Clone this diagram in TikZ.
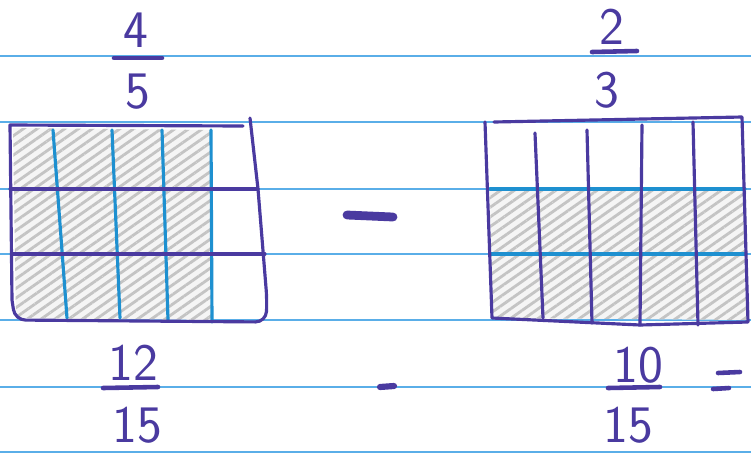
\documentclass[tikz,border=0pt]{standalone}
\usepackage{tikz}
\usetikzlibrary{patterns.meta}
\definecolor{rule}{HTML}{5AAEE8}
\definecolor{ink}{HTML}{4A3AA0}
\definecolor{cyanink}{HTML}{1E90D0}
\definecolor{pencil}{HTML}{C4C4C4}

\begin{document}
\begin{tikzpicture}[
  x=0.02cm,y=-0.02cm,
  every node/.style={font=\sffamily\fontsize{30}{34}\selectfont,text=ink,inner sep=0pt},
  ruled/.style={rule,line width=1.1pt},
  outline/.style={ink,line width=1.8pt,line join=round,line cap=round},
  blueline/.style={cyanink,line width=1.8pt,line cap=round},
  shade/.style={preaction={fill=gray!8},
                pattern={Lines[angle=35,distance=4.5pt,line width=1.6pt]},
                pattern color=pencil},
  bar/.style={ink,line width=2.6pt,line cap=round}
]
\useasboundingbox (0,0) rectangle (751,454);
\fill[white] (0,0) rectangle (751,454);

% lined paper
\foreach \y in {56,122,189,254,320,387,452}
  \draw[ruled] (0,\y) -- (751,\y);

% left grid: 4/5 as 12/15
\path[shade] (13,128) -- (211,130) -- (212,320) -- (16,318) -- cycle;
\draw[blueline] (53,130) -- (67,318);
\draw[blueline] (112,130) -- (120,318);
\draw[blueline] (162,130) -- (168,320);
\draw[blueline] (211,130) -- (212,322);
\draw[outline] (243,126) -- (10,125) -- (12,300)
  [rounded corners=6pt] -- (15,320) -- (266,322) -- (267,300)
  [sharp corners] -- (258,189) -- (250,118);
\draw[outline] (10,189) -- (258,189);
\draw[outline] (12,254) -- (265,254);

% right grid: 2/3 as 10/15
\path[shade] (490,191) -- (746,191) -- (747,320) -- (492,318) -- cycle;
\draw[blueline] (490,189) -- (745,189);
\draw[blueline] (490,254) -- (746,254);
\draw[outline] (494,122) -- (742,117) -- (748,322) -- (640,325) -- (492,318)
  -- (485,122);
\draw[outline] (535,133) -- (543,318);
\draw[outline] (587,130) -- (592,323);
\draw[outline] (642,125) -- (640,325);
\draw[outline] (693,122) -- (698,325);

% fractions on top
\node (numL) at (136,30) {4};
\node (denL) at (138,92) {5};
\draw[bar] (114,58) -- (162,58);
\node (numR) at (612,27) {2};
\node (denR) at (607,90) {3};
\draw[bar] (592,52) -- (637,51);

% signs
\draw[ink,line width=5pt,line cap=round] (347,215) -- (393,217);
\draw[ink,line width=3.5pt,line cap=round] (380,387) -- (394,386);
\draw[ink,line width=2.6pt,line cap=round] (718,373) -- (740,372);
\draw[ink,line width=2.6pt,line cap=round] (713,389) -- (729,388);

% fractions below
\node (numLB) at (133,363) {12};
\node (denLB) at (137,425) {15};
\draw[bar] (103,388) -- (158,387);
\node (numRB) at (638,365) {10};
\node (denRB) at (628,425) {15};
\draw[bar] (608,388) -- (660,387);
\end{tikzpicture}
\end{document}
